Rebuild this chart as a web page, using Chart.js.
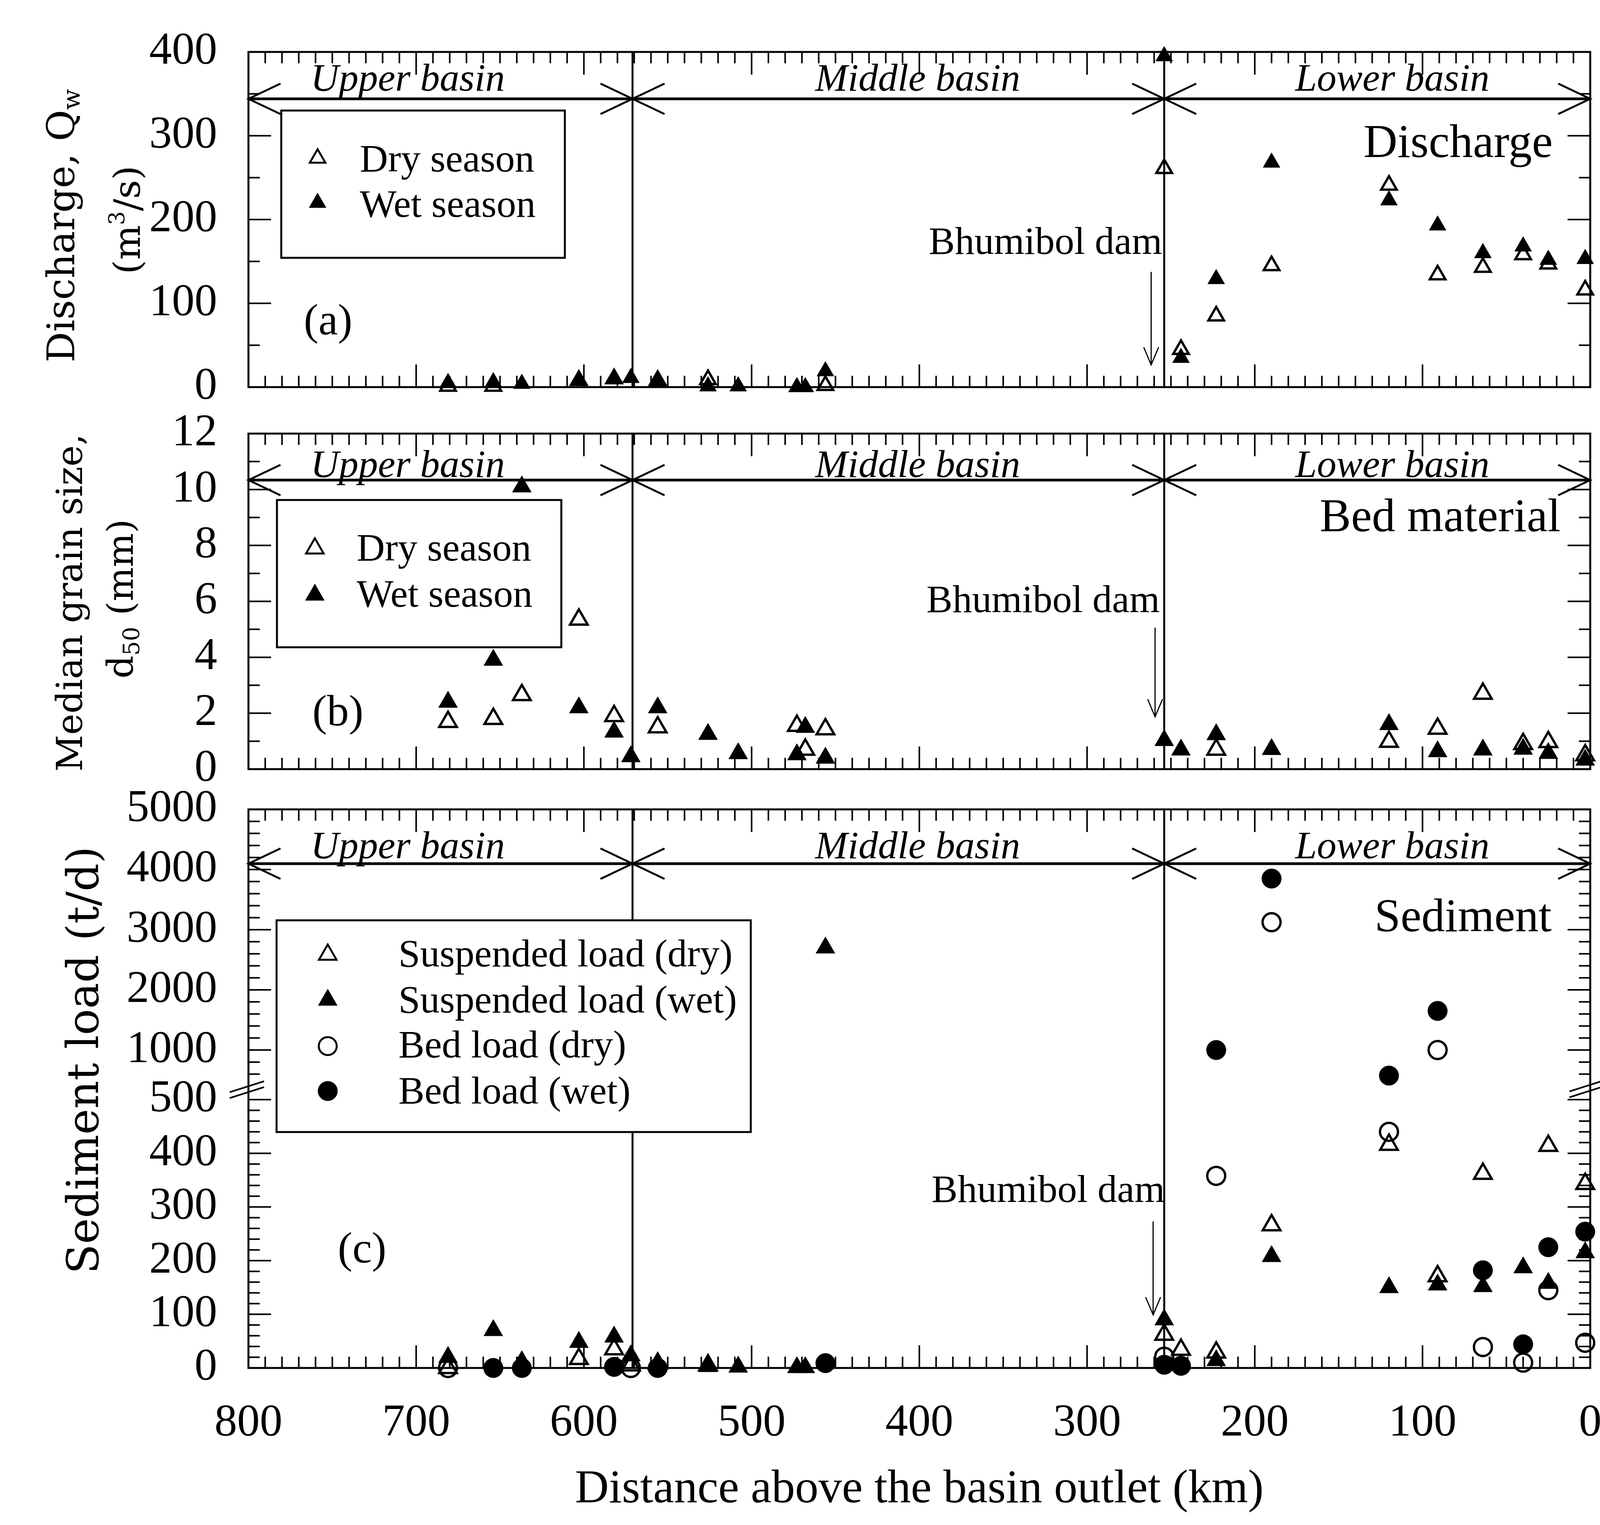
<!DOCTYPE html>
<html>
<head>
<meta charset="utf-8">
<script src="https://cdn.jsdelivr.net/npm/chart.js@4.4.1/dist/chart.umd.min.js"></script>
<style>
html,body{margin:0;padding:0;background:#fff}
#wrap{position:relative;width:4192px;height:3904px;background:#fff;overflow:hidden}
canvas{position:absolute;left:0}
</style>
</head>
<body>
<div id="wrap">
<canvas id="chartA" width="4192" height="1080" style="top:0px"></canvas>
<canvas id="chartB" width="4192" height="1030" style="top:1030px"></canvas>
<canvas id="chartC" width="4192" height="1914" style="top:1990px"></canvas>
</div>
<script>
// sampling stations, km above the basin outlet
const stationKm = [681, 654, 637, 603, 582, 572, 556, 526, 508, 473, 468, 456, 254, 244, 223, 190, 120, 91, 64, 40, 25, 3]

// (a) discharge Qw, m3/s
const dischargeDry = [1, 1, null, 8, 10, null, 8, 9, null, null, null, 2, 261, 45, 85, 145, 241, 134, 143, 158, 147, 116]
const dischargeWet = [5, 6, 4, 9, 11, 11, 7, 1, 1, 0, 0, 19, 395, 35, 129, 268, 223, 193, 160, 168, 152, 153]

// (b) median grain size d50, mm
const grainDry = [1.69, 1.8, 2.65, 5.35, 1.9, null, 1.5, null, null, 1.55, 0.7, 1.43, null, null, 0.7, null, 0.98, 1.45, 2.7, 0.9, 0.97, 0.5]
const grainWet = [2.4, 3.9, 10.1, 2.2, 1.33, 0.45, 2.2, 1.25, 0.56, 0.52, 1.5, 0.4, 1.03, 0.69, 1.24, 0.71, 1.6, 0.63, 0.69, 0.72, 0.57, 0.33]

// (c) sediment load, t/d
const suspDry = [0, null, null, 17, 35, 5, 8, 5, null, null, null, null, 62, 34, 29, 266, 416, 171, 362, null, 414, 343]
const suspWet = [20, 70, 12, 48, 58, 23, 3, 3, 2, 1, 1, 2700, 90, null, 14, 208, 150, 155, 152, 187, 158, 215]
const bedDry = [0, null, null, null, null, 0, null, null, null, null, null, null, 21, null, 358, 3125, 440, 1000, 39, 10, 145, 47]
const bedWet = [null, 0, 0, null, 2, null, 0, null, null, null, null, 9, 6, 4, 1000, 3850, 575, 1650, 182, 44, 225, 254]

// basins
const basinEdges = [800, 571, 254, 0]
const basinNames = ["Upper basin", "Middle basin", "Lower basin"]
const basinLabelKm = [705, 401, 118]

// tick labels
const distanceTicks = [0, 100, 200, 300, 400, 500, 600, 700, 800]
const dischargeTicks = [0, 100, 200, 300, 400]
const grainTicks = [0, 2, 4, 6, 8, 10, 12]
const sedimentTicks = [0, 100, 200, 300, 400, 500, 1000, 2000, 3000, 4000, 5000]

const SERIF = '"Liberation Serif", "Times New Roman", serif'
const TITLE = '"DejaVu Serif", serif'

// broken sediment axis: 0-500 below the break, 1000-5000 above it
function sedAxis(v){
if(v <= 500) return v / 100
return 5.924 + (v - 1000) / 1000 * 1.121
}

function points(vals, tf){
const pts = []
vals.forEach((v, i) => {
if(v !== null) pts.push({x: stationKm[i], y: tf ? tf(v) : v})
})
return pts
}

function series(label, vals, style, open, r, order, tf){
return {
label: label,
data: points(vals, tf),
pointStyle: style,
pointRadius: open ? r - 2 : r,
pointHoverRadius: open ? r - 2 : r,
backgroundColor: open ? 'rgba(0,0,0,0)' : '#000',
borderColor: '#000',
borderWidth: open ? 6 : 1,
clip: false,
order: order
}
}

function tickY(ctx, a, py, len){
ctx.moveTo(a.left, py); ctx.lineTo(a.left + len, py)
ctx.moveTo(a.right, py); ctx.lineTo(a.right - len, py)
}

function drawFrame(chart, cfg){
const ctx = chart.ctx, a = chart.chartArea
const xs = chart.scales.x, ys = chart.scales.y
const Y = v => ys.getPixelForValue(cfg.yMap(v))
ctx.save()
ctx.strokeStyle = '#000'
ctx.lineWidth = 4
ctx.beginPath()
for(let km = 0; km <= 800; km += 10){
const px = xs.getPixelForValue(km)
const len = km % 100 === 0 ? 58 : 29
ctx.moveTo(px, a.bottom); ctx.lineTo(px, a.bottom - len)
ctx.moveTo(px, a.top); ctx.lineTo(px, a.top + len)
}
cfg.yMajor.forEach(v => tickY(ctx, a, Y(v), 58))
cfg.yMinor.forEach(v => tickY(ctx, a, Y(v), 29))
ctx.stroke()

ctx.lineWidth = 5
ctx.strokeRect(a.left, a.top, a.right - a.left, a.bottom - a.top)

ctx.beginPath()
basinEdges.slice(1, -1).forEach(km => {
const px = xs.getPixelForValue(km)
ctx.moveTo(px, a.top); ctx.lineTo(px, a.bottom)
})
ctx.stroke()

const ay = cfg.arrowY - cfg.top
ctx.lineWidth = 7
ctx.beginPath()
for(let i = 0; i < basinEdges.length - 1; i++){
const x1 = xs.getPixelForValue(basinEdges[i])
const x2 = xs.getPixelForValue(basinEdges[i + 1])
ctx.moveTo(x1, ay); ctx.lineTo(x2, ay)
}
ctx.stroke()
ctx.lineWidth = 5
ctx.beginPath()
for(let i = 0; i < basinEdges.length - 1; i++){
const x1 = xs.getPixelForValue(basinEdges[i])
const x2 = xs.getPixelForValue(basinEdges[i + 1])
ctx.moveTo(x1 + 82, ay - 39); ctx.lineTo(x1, ay); ctx.lineTo(x1 + 82, ay + 39)
ctx.moveTo(x2 - 82, ay - 39); ctx.lineTo(x2, ay); ctx.lineTo(x2 - 82, ay + 39)
}
ctx.stroke()

if(cfg.breaks){
ctx.lineWidth = 4
ctx.beginPath()
cfg.breaks.forEach(b => {
const cy = b[1] - cfg.top
ctx.moveTo(b[0] - 44, cy + 14); ctx.lineTo(b[0] + 44, cy - 14)
})
ctx.stroke()
}
ctx.restore()
}

function marker(ctx, ds, x, y){
ctx.save()
ctx.fillStyle = ds.backgroundColor
ctx.strokeStyle = ds.borderColor
ctx.lineWidth = ds.borderWidth > 1 ? 5 : 1
Chart.helpers.drawPoint(ctx, {pointStyle: ds.pointStyle, radius: ds.pointRadius, borderWidth: ctx.lineWidth, rotation: 0}, x, y)
ctx.restore()
}

function vertical(ctx, line, top){
ctx.save()
ctx.translate(line.x, line.y - top)
ctx.rotate(-Math.PI / 2)
ctx.textAlign = 'left'
ctx.textBaseline = 'alphabetic'
ctx.fillStyle = '#000'
let total = 0
line.parts.forEach(p => {
ctx.font = p.s + 'px ' + TITLE
p.w = ctx.measureText(p.t).width
total += p.w
})
let x = -total / 2
line.parts.forEach(p => {
ctx.font = p.s + 'px ' + TITLE
ctx.fillText(p.t, x, p.dy || 0)
x += p.w
})
ctx.restore()
}

function drawNotes(chart, cfg){
const ctx = chart.ctx, xs = chart.scales.x
const T = py => py - cfg.top
ctx.save()
ctx.fillStyle = '#000'
ctx.strokeStyle = '#000'

ctx.textBaseline = 'alphabetic'
ctx.textAlign = 'center'
ctx.font = 'italic 100px ' + SERIF
basinNames.forEach((n, i) => ctx.fillText(n, xs.getPixelForValue(basinLabelKm[i]), T(cfg.basinTextY)))

const d = cfg.dam
ctx.textAlign = 'right'
ctx.font = '100px ' + SERIF
ctx.fillText('Bhumibol dam', d.right, T(d.base))
ctx.lineWidth = 3
ctx.beginPath()
ctx.moveTo(d.x, T(d.y1)); ctx.lineTo(d.x, T(d.y2))
ctx.moveTo(d.x - 19, T(d.y2) - 45); ctx.lineTo(d.x, T(d.y2)); ctx.lineTo(d.x + 19, T(d.y2) - 45)
ctx.stroke()

ctx.font = '120px ' + SERIF
ctx.fillText(cfg.name.text, cfg.name.right, T(cfg.name.base))

ctx.textAlign = 'center'
ctx.textBaseline = 'middle'
ctx.font = '112px ' + SERIF
ctx.fillText(cfg.tag.text, cfg.tag.x, T(cfg.tag.y))

const L = cfg.legend
ctx.fillStyle = '#fff'
ctx.fillRect(L.box[0], T(L.box[1]), L.box[2] - L.box[0], L.box[3] - L.box[1])
ctx.lineWidth = 5
ctx.strokeRect(L.box[0], T(L.box[1]), L.box[2] - L.box[0], L.box[3] - L.box[1])
ctx.textAlign = 'left'
ctx.textBaseline = 'alphabetic'
ctx.font = '100px ' + SERIF
chart.data.datasets.forEach((ds, i) => {
marker(ctx, ds, L.mx, T(L.my[i]))
ctx.fillStyle = '#000'
ctx.fillText(ds.label, L.tx, T(L.ty[i]))
})

cfg.titles.forEach(line => vertical(ctx, line, cfg.top))
ctx.restore()
}

function makeChart(id, cfg, datasets, yMax, yTicks, showX){
const yScale = {
type: 'linear',
min: 0,
max: yMax,
afterBuildTicks: s => { s.ticks = yTicks.map(v => ({value: cfg.yMap(v)})) },
afterFit: s => {
s.width = 636
s.paddingTop = 0
s.paddingBottom = 0
},
ticks: {
autoSkip: false,
padding: 80,
color: '#000',
font: {family: SERIF, size: 116},
callback: (v, i) => String(yTicks[i])
},
grid: {display: false, drawTicks: false},
border: {display: false}
}
const xScale = {
type: 'linear',
reverse: true,
min: 0,
max: 800,
display: showX
}
if(showX){
Object.assign(xScale, {
afterBuildTicks: s => { s.ticks = distanceTicks.map(v => ({value: v})) },
afterFit: s => {
s.height = 402
s.paddingLeft = 0
s.paddingRight = 0
},
ticks: {
autoSkip: false,
maxRotation: 0,
minRotation: 0,
padding: 73,
color: '#000',
font: {family: SERIF, size: 116},
callback: (v, i) => String(distanceTicks[i])
},
grid: {display: false, drawTicks: false},
border: {display: false},
title: {
display: true,
text: 'Distance above the basin outlet (km)',
color: '#000',
font: {family: SERIF, size: 120},
padding: {top: 0, bottom: 18}
}
})
}
return new Chart(document.getElementById(id), {
type: 'scatter',
data: {datasets: datasets},
options: {
responsive: false,
animation: false,
devicePixelRatio: 1,
events: [],
layout: {padding: cfg.padding},
plugins: {legend: {display: false}, tooltip: {enabled: false}},
scales: {x: xScale, y: yScale}
},
plugins: [{
id: 'deco',
beforeDatasetsDraw: chart => drawFrame(chart, cfg),
afterDatasetsDraw: chart => drawNotes(chart, cfg)
}]
})
}

const cfgA = {
top: 0,
padding: {left: 0, right: 121, top: 133, bottom: 89},
yMap: v => v,
yMajor: dischargeTicks,
yMinor: [50, 150, 250, 350],
arrowY: 253,
basinTextY: 232,
dam: {right: 2975, base: 650, x: 2947, y1: 696, y2: 934},
name: {text: 'Discharge', right: 3975, base: 402},
tag: {text: '(a)', x: 840, y: 827},
legend: {box: [720, 283, 1446, 660], mx: 813, tx: 921, my: [405, 519], ty: [439, 555]},
titles: [
{x: 190, y: 578, parts: [{t: 'Discharge, Q', s: 98}, {t: 'w', s: 62, dy: 14}]},
{x: 358, y: 563, parts: [{t: '(m', s: 94}, {t: '3', s: 56, dy: -40}, {t: '/s)', s: 94}]}
]
}

const cfgB = {
top: 1030,
padding: {left: 0, right: 121, top: 80, bottom: 91},
yMap: v => v,
yMajor: grainTicks,
yMinor: [1, 3, 5, 7, 9, 11],
arrowY: 1229,
basinTextY: 1221,
dam: {right: 2969, base: 1567, x: 2957, y1: 1607, y2: 1835},
name: {text: 'Bed material', right: 3995, base: 1360},
tag: {text: '(b)', x: 865, y: 1828},
legend: {box: [709, 1280, 1437, 1657], mx: 806, tx: 913, my: [1404, 1523], ty: [1435, 1553]},
titles: [
{x: 210, y: 1543, parts: [{t: 'Median grain size,', s: 92}]},
{x: 340, y: 1533, parts: [{t: 'd', s: 92}, {t: '50', s: 58, dy: 16}, {t: ' (mm)', s: 92}]}
]
}

const sedMinor = []
for(let v = 20; v < 500; v += 20) if(v % 100) sedMinor.push(v)
for(let v = 600; v < 5000; v += 200) if(v % 1000) sedMinor.push(v)

const cfgC = {
top: 1990,
padding: {left: 0, right: 121, top: 82, bottom: 0},
yMap: sedAxis,
yMajor: sedimentTicks,
yMinor: sedMinor,
arrowY: 2211,
basinTextY: 2197,
dam: {right: 2982, base: 3077, x: 2952, y1: 3127, y2: 3366},
name: {text: 'Sediment', right: 3972, base: 2384},
tag: {text: '(c)', x: 927, y: 3203},
legend: {box: [708, 2356, 1922, 2898], mx: 839, tx: 1020, my: [2444, 2560, 2678, 2793], ty: [2474, 2592, 2707, 2825]},
titles: [
{x: 251, y: 2714, parts: [{t: 'Sediment load (t/d)', s: 112}]}
],
breaks: [[632, 2782], [632, 2797], [4062, 2780], [4062, 2795]]
}

function build(){
makeChart('chartA', cfgA, [
series('Dry season', dischargeDry, 'triangle', true, 25, 1),
series('Wet season', dischargeWet, 'triangle', false, 25, 0)
], 400, dischargeTicks, false)

makeChart('chartB', cfgB, [
series('Dry season', grainDry, 'triangle', true, 28, 1),
series('Wet season', grainWet, 'triangle', false, 28, 0)
], 12, grainTicks, false)

makeChart('chartC', cfgC, [
series('Suspended load (dry)', suspDry, 'triangle', true, 28, 1, sedAxis),
series('Suspended load (wet)', suspWet, 'triangle', false, 28, 0, sedAxis),
series('Bed load (dry)', bedDry, 'circle', true, 25, 3, sedAxis),
series('Bed load (wet)', bedWet, 'circle', false, 25, 2, sedAxis)
], sedAxis(5000), sedimentTicks, true)
}

Promise.all([
document.fonts.load('100px "Liberation Serif"'),
document.fonts.load('italic 100px "Liberation Serif"'),
document.fonts.load('100px "DejaVu Serif"')
]).then(build, build)
</script>
</body>
</html>
